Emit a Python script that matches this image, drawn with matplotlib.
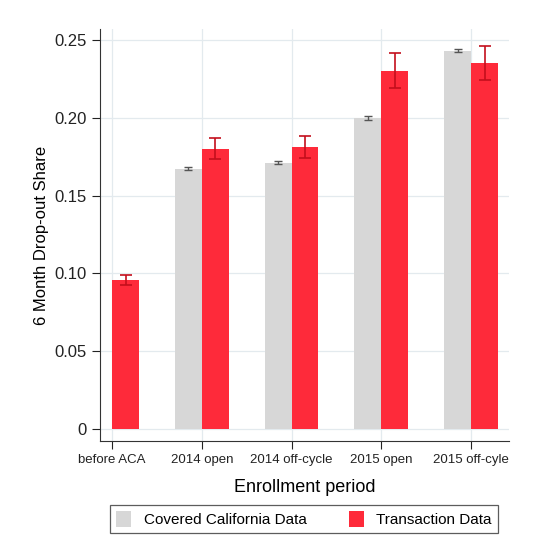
import matplotlib

matplotlib.use("Agg")
import matplotlib.pyplot as plt
import numpy as np

plt.rcParams["font.family"] = ["Liberation Sans", "DejaVu Sans"]

periods = ["before ACA", "2014 open", "2014 off-cycle", "2015 open", "2015 off-cyle"]
covered = [np.nan, 0.1673, 0.1712, 0.1997, 0.2431]
covered_err = [np.nan, 0.0010, 0.0010, 0.0013, 0.0010]
transaction = [0.0957, 0.1802, 0.1810, 0.2302, 0.2350]
transaction_err = [0.0030, 0.0068, 0.0070, 0.0112, 0.0110]
ytick_vals = [0, 0.05, 0.10, 0.15, 0.20, 0.25]
ytick_labels = ["0", "0.05", "0.10", "0.15", "0.20", "0.25"]

gray = "#d7d7d7"
red = "#fe2a3a"

fig = plt.figure(figsize=(5.5, 5.53), dpi=100)
ax = fig.add_axes([0.182, 0.2025, 0.743, 0.745])

x = np.arange(len(periods))
w = 0.3
ax.bar(x, covered, width=-w, align="edge", color=gray, label="Covered California Data", zorder=2)
ax.bar(x, transaction, width=w, align="edge", color=red, label="Transaction Data", zorder=2)
ax.errorbar(x - w / 2, covered, yerr=covered_err, fmt="none", ecolor="#555555",
            elinewidth=1.0, capsize=3, capthick=1.0, zorder=3)
ax.errorbar(x + w / 2, transaction, yerr=transaction_err, fmt="none", ecolor="#c40f1c",
            elinewidth=1.2, capsize=4, capthick=1.2, zorder=3)

ax.set_xlim(-0.133, 4.42)
ax.set_ylim(-0.0077, 0.257)
ax.set_xticks(x)
ax.set_xticklabels(periods, fontsize=9.5)
ax.set_yticks(ytick_vals)
ax.set_yticklabels(ytick_labels, fontsize=12)
ax.grid(True, color="#e3eaee", linewidth=0.9, zorder=0)
ax.set_axisbelow(True)
for side in ["top", "right"]:
    ax.spines[side].set_visible(False)
for side in ["left", "bottom"]:
    ax.spines[side].set_color("#333333")
ax.tick_params(colors="#222222", length=6)
ax.set_ylabel("6 Month Drop-out Share", fontsize=12, labelpad=4)
ax.set_xlabel("Enrollment period", fontsize=13, labelpad=9)

leg = fig.legend(loc="lower left", bbox_to_anchor=(0.2, 0.036, 0.705, 0.047), mode="expand",
                 ncol=2, fontsize=11, frameon=True, fancybox=False, handlelength=1.0,
                 handleheight=1.2, borderaxespad=0.0)
leg.get_frame().set_edgecolor("#333333")
leg.get_frame().set_linewidth(0.9)

fig.savefig("out.png", dpi=100)
